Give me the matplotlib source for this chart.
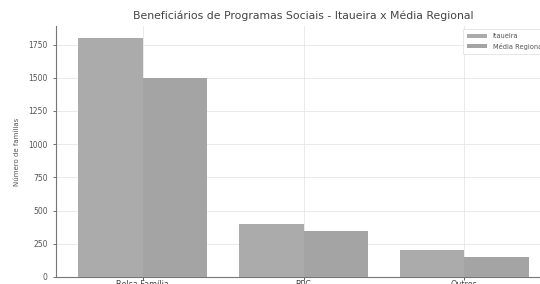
import matplotlib
matplotlib.use("Agg")
import matplotlib.pyplot as plt
import numpy as np

categories = ["Bolsa Família", "BPC", "Outros"]
itaueira = [1800, 400, 200]
media_regional = [1500, 350, 150]
series_labels = ["Itaueira", "Média Regional"]

plt.rcParams['font.family'] = ['DejaVu Sans']

fig = plt.figure(figsize=(5.4, 2.84), dpi=100)
ax = fig.add_axes([56/540, 7/284, 495/540, 251/284])

x = np.arange(len(categories))
w = 0.4
ax.bar(x - w/2, itaueira, w, color='#ababab', label=series_labels[0], zorder=3)
ax.bar(x + w/2, media_regional, w, color='#a4a4a4', label=series_labels[1], zorder=3)

ax.set_xticks(x)
ax.set_xticklabels(categories, fontsize=5.8, color='#444444')
ax.set_yticks([0, 250, 500, 750, 1000, 1250, 1500, 1750])
ax.tick_params(axis='y', labelsize=5.5, colors='#555555', length=2.5, width=0.6)
ax.tick_params(axis='x', length=2, width=0.6, colors='#444444', pad=0.5)
ax.set_ylabel("Número de famílias", fontsize=5, color='#555555', labelpad=6)
ax.set_title("Beneficiários de Programas Sociais - Itaueira x Média Regional",
             fontsize=7.8, color='#444444', pad=5)
ax.grid(True, color='#e6e6e6', linewidth=0.6, zorder=0)
for s in ['top', 'right']:
    ax.spines[s].set_visible(False)
for s in ['left', 'bottom']:
    ax.spines[s].set_color('#777777')
    ax.spines[s].set_linewidth(0.8)

leg = ax.legend(loc='upper right', fontsize=4.8, frameon=True, framealpha=1,
                edgecolor='#dddddd', handlelength=3, handleheight=0.6,
                labelcolor='#555555', borderpad=0.6, fancybox=False)
leg.get_frame().set_linewidth(0.5)

fig.savefig("out.png", dpi=100)
